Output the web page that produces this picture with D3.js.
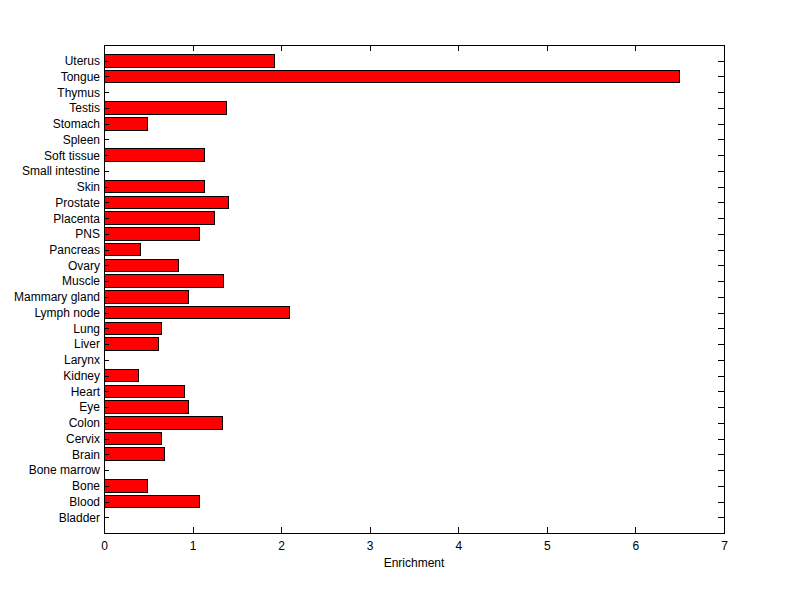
<!DOCTYPE html>
<html><head><meta charset="utf-8">
<script src="https://cdn.jsdelivr.net/npm/d3@7"></script>
<style>body{margin:0;background:#fff}svg{display:block}text{font-family:"Liberation Sans",Arial,sans-serif;font-size:12px;fill:#000}</style>
</head><body>
<script>
const categories = ["Bladder","Blood","Bone","Bone marrow","Brain","Cervix","Colon","Eye","Heart","Kidney","Larynx","Liver","Lung","Lymph node","Mammary gland","Muscle","Ovary","Pancreas","PNS","Placenta","Prostate","Skin","Small intestine","Soft tissue","Spleen","Stomach","Testis","Thymus","Tongue","Uterus"];
const values = [0,1.08,0.49,0,0.68,0.65,1.34,0.95,0.91,0.39,0,0.61,0.65,2.09,0.95,1.35,0.84,0.41,1.08,1.25,1.40,1.13,0,1.13,0,0.49,1.38,0,6.50,1.92];
const xTicks = [0,1,2,3,4,5,6,7];
const xLabel = "Enrichment";

const W=800,H=599, L=104, R=724, T=45, B=533;
const svg=d3.select("body").append("svg").attr("width",W).attr("height",H);
const x=d3.scaleLinear().domain([0,7]).range([L,R]);
const y=d3.scaleLinear().domain([0,categories.length+1]).range([B,T]);
const bh=(y(0)-y(1))*0.8;

svg.append("g").selectAll("rect").data(values).join("rect")
  .attr("x",x(0)).attr("y",(d,i)=>y(i+1)-bh/2)
  .attr("width",d=>x(d)-x(0)).attr("height",bh)
  .attr("fill",d=>d>0?"#ff0000":"none").attr("stroke",d=>d>0?"#000":"none").attr("stroke-width",1)
  .attr("shape-rendering","crispEdges");

const catIdx=categories.map((c,i)=>i+1);
const gb=svg.append("g").attr("transform",`translate(0,${B})`)
  .call(d3.axisBottom(x).tickValues(xTicks).tickFormat(d3.format("d")).tickSizeInner(-6).tickSizeOuter(0).tickPadding(8));
const gt=svg.append("g").attr("transform",`translate(0,${T})`)
  .call(d3.axisTop(x).tickValues(xTicks).tickFormat("").tickSizeInner(-6).tickSizeOuter(0));
const gl=svg.append("g").attr("transform",`translate(${L},0)`)
  .call(d3.axisLeft(y).tickValues(catIdx).tickFormat((d)=>categories[d-1]).tickSizeInner(-5).tickSizeOuter(0).tickPadding(4));
const gr=svg.append("g").attr("transform",`translate(${R},0)`)
  .call(d3.axisRight(y).tickValues(catIdx).tickFormat("").tickSizeInner(-6).tickSizeOuter(0));
[gb,gt,gl,gr].forEach(g=>{
  g.select(".domain").attr("stroke","#000").attr("shape-rendering","crispEdges");
  g.selectAll(".tick line").attr("stroke","#000").attr("shape-rendering","crispEdges");
  g.selectAll("text").attr("font-size",12).attr("font-family",'"Liberation Sans",Arial,sans-serif').attr("fill","#000");
});
gb.selectAll("text").attr("dy","0.71em");
svg.append("text").attr("x",(L+R)/2).attr("y",567).attr("text-anchor","middle").text(xLabel);
</script>
</body></html>
